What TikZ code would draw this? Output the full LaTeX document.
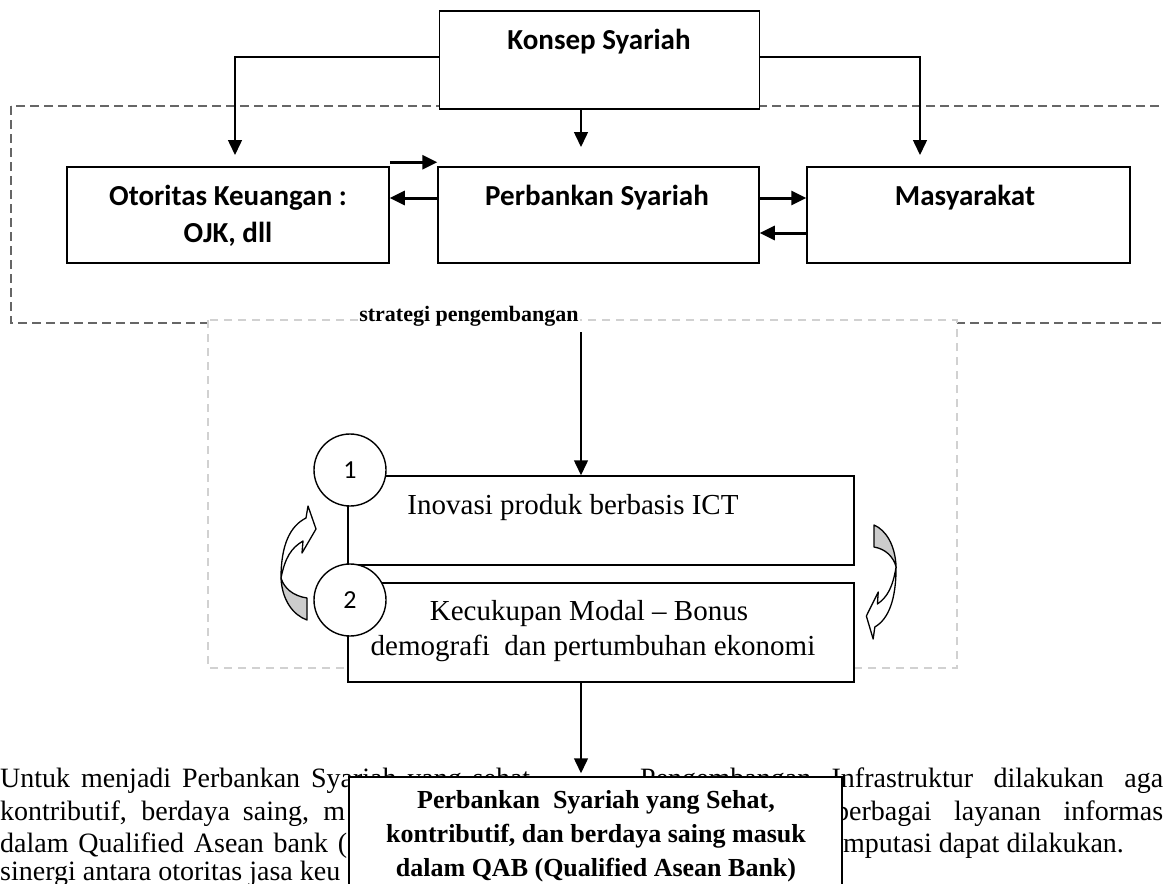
\documentclass[tikz,border=0pt]{standalone}
\usepackage{fontspec}
\setmainfont{Liberation Serif}
\newfontfamily\calibri{Carlito}
\usetikzlibrary{arrows.meta,calc,positioning}
\tikzset{
  box/.style        = {draw, line width=1.5pt, fill=white, inner sep=0pt},
  lbl/.style        = {anchor=base, inner sep=0pt, font=\calibri\bfseries\fontsize{29}{35}\selectfont},
  txt/.style        = {anchor=base, inner sep=0pt, font=\fontsize{29}{35}\selectfont},
  body/.style       = {anchor=base west, inner sep=0pt, font=\fontsize{28}{32}\selectfont},
  num/.style        = {circle, draw, line width=1.4pt, fill=white, minimum size=72pt,
                       inner sep=0pt, font=\calibri\fontsize{26}{30}\selectfont},
  arr/.style        = {-{Triangle[length=15pt,width=14pt]}, line width=1.5pt},
  harr/.style       = {-{Triangle[length=15pt,width=14pt]}, line width=3pt},
  outerframe/.style = {draw=black!60, line width=1.3pt, dash pattern=on 9pt off 5pt},
  innerframe/.style = {draw=black!18, fill=white, line width=1.5pt, dash pattern=on 8pt off 6pt},
  curl/.pic         = {
    \filldraw[fill=white, line width=1.3pt, line join=round]
      (-1,-91) -- (1,-103) -- (9,-80) -- (-5,-56) -- (-4,-68)
      .. controls (-16,-61) and (-22,-51) .. (-26,-31)
      .. controls (-26,-64) and (-17,-83) .. (-1,-91) -- cycle;
    \filldraw[fill=black!20, line width=1.3pt, line join=round]
      (-26,-31) .. controls (-25,-9) and (-14,6) .. (0,11)
      -- (0,-11) .. controls (-14,-13) and (-23,-21) .. (-26,-31) -- cycle;
  },
}
\begin{document}
\begin{tikzpicture}[x=1pt,y=-1pt]
  \useasboundingbox (0,0) rectangle (1163,884);
  \clip (0,0) rectangle (1163,884);
  \draw[outerframe] (11,106) rectangle (1180,323);
  \draw[innerframe] (208,320) rectangle (957,668);
  \node[txt, font=\bfseries\fontsize{22}{26}\selectfont, fill=white, inner sep=1pt] (strat) at (469,321) {strategi pengembangan};

  \node[box, minimum width=320pt, minimum height=98pt] (konsep) at (599.5,60) {};
  \node[lbl] (konsep-t) at (599,49) {Konsep Syariah};
  \node[box, minimum width=322pt, minimum height=96pt] (otoritas) at (228,215) {};
  \node[lbl] (otoritas-t1) at (228,205) {Otoritas Keuangan :};
  \node[lbl] (otoritas-t2) at (228,242) {OJK, dll};
  \node[box, minimum width=321pt, minimum height=96pt] (perbankan) at (598.5,215) {};
  \node[lbl] (perbankan-t) at (597,205) {Perbankan Syariah};
  \node[box, minimum width=323pt, minimum height=96pt] (masy) at (968.5,215) {};
  \node[lbl] (masy-t) at (965,205) {Masyarakat};

  \coordinate (oto-in) at (235,155);
  \coordinate (perb-in) at (581,147);
  \coordinate (masy-in) at (920,155);
  \draw[arr] ([yshift=3pt]konsep.west) -| (oto-in);
  \draw[arr] (konsep.south -| perb-in) -- (perb-in);
  \draw[arr] ([yshift=3pt]konsep.east) -| (masy-in);
  \draw[harr] ([yshift=4pt]otoritas.north east) -- ([yshift=4pt]perbankan.north west);
  \draw[harr] ([yshift=17pt]perbankan.west) -- ([yshift=17pt]otoritas.east);
  \draw[harr] ([yshift=17pt]perbankan.east) -- ([yshift=17pt]masy.west);
  \draw[harr] ([yshift=-18pt]masy.west) -- ([yshift=-18pt]perbankan.east);

  \node[box, minimum width=506pt, minimum height=89pt] (ict) at (601,520.5) {};
  \node[txt] (ict-t) at (573,514) {Inovasi produk berbasis ICT};
  \node[box, minimum width=506pt, minimum height=99pt] (modal) at (601,632.5) {};
  \node[txt] (modal-t1) at (589,620) {Kecukupan Modal -- Bonus};
  \node[txt] (modal-t2) at (593,655) {demografi~ dan pertumbuhan ekonomi};
  \node[num] (c1) at (350,470) {1};
  \node[num] (c2) at (350,600) {2};
  \pic at (307,609) {curl};
  \pic[xscale=-0.85, yscale=-1] at (874,536) {curl};
  \coordinate (strat-out) at (581,332);
  \draw[arr] (strat-out) -- (strat-out |- ict.north);

  \node[body] (p1a) at (0,787) {\makebox[537pt][s]{Untuk menjadi Perbankan Syariah yang sehat,}};
  \node[body] (p1b) at (640,787) {\makebox[523pt][s]{Pengembangan Infrastruktur dilakukan aga}};
  \node[body] (p2a) at (0,820) {\makebox[345pt][s]{kontributif, berdaya saing, m}};
  \node[body] (p2b) at (835,820) {\makebox[328pt][s]{berbagai layanan informas}};
  \node[body] (p3a) at (0,852) {\makebox[347pt][s]{dalam Qualified Asean bank (}};
  \node[body] (p3b) at (843,852) {mputasi dapat dilakukan.};
  \node[body] (p4a) at (0,880) {sinergi antara otoritas jasa keu};

  \node[box, minimum width=493pt, minimum height=143pt] (qab) at (595.5,848.5) {};
  \node[txt, font=\bfseries\fontsize{26}{30}\selectfont] (qab-t1) at (596,808) {Perbankan~ Syariah yang Sehat,};
  \node[txt, font=\bfseries\fontsize{26}{30}\selectfont] (qab-t2) at (596,842) {kontributif, dan berdaya saing masuk};
  \node[txt, font=\bfseries\fontsize{26}{30}\selectfont] (qab-t3) at (596,876) {dalam QAB (Qualified Asean Bank)};
  \draw[arr, shorten >=3pt] (modal.south -| strat-out) -- (qab.north -| strat-out);
\end{tikzpicture}
\end{document}
